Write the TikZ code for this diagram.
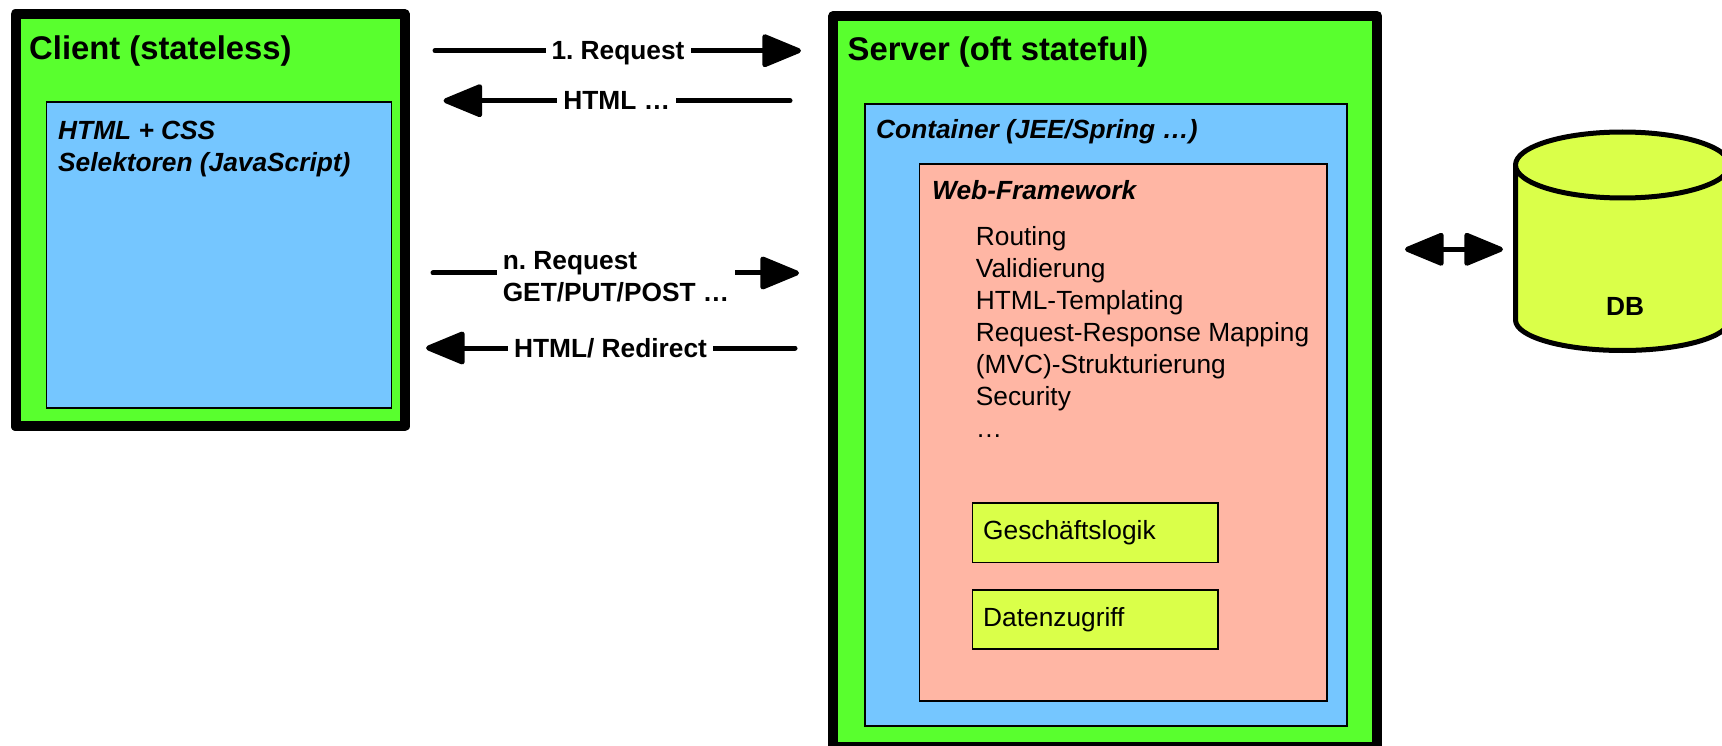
\documentclass[tikz,border=0pt]{standalone}
\usepackage{fontspec}
\setmainfont{Liberation Sans}
\frenchspacing
\usetikzlibrary{arrows.meta}
\definecolor{boxgreen}{RGB}{89,255,46}
\definecolor{boxblue}{RGB}{117,198,255}
\definecolor{boxpink}{RGB}{255,182,164}
\definecolor{boxlime}{RGB}{218,255,73}
\tikzset{
  TierStyle/.style = { rectangle, draw, line width = 10pt, line join = round,
                       fill = boxgreen, inner sep = 0pt },
  InnerStyle/.style = { rectangle, draw, line width = 1.6pt, inner sep = 0pt },
  TitleStyle/.style = { anchor = base west, inner sep = 0pt,
                       font = \fontsize{32.8}{36}\selectfont\bfseries },
  SubStyle/.style = { anchor = base west, inner sep = 0pt,
                       font = \fontsize{26.3}{32}\selectfont\bfseries\itshape },
  PlainStyle/.style = { anchor = base west, inner sep = 0pt,
                       font = \fontsize{26.3}{32}\selectfont },
  MsgStyle/.style = { line width = 5pt, line cap = round,
                       -{Triangle[length = 43pt, width = 34pt, round]} },
  MsgLabelStyle/.style = { fill = white, inner xsep = 6pt, inner ysep = 2pt,
                       font = \fontsize{26.3}{32}\selectfont\bfseries },
  OneLine/.style = { text height = 18pt, text depth = 0pt },
  DbStyle/.style = { draw, line width = 5pt, line join = round, fill = boxlime }
}

\begin{document}
\begin{tikzpicture}[x=1pt,y=-1pt]
  \useasboundingbox (0,0) rectangle (1722,746);
  \clip (0,0) rectangle (1722,746);

  \node[TierStyle, minimum width = 389pt, minimum height = 412.5pt] (client) at (210,220.2) {};
  \node[InnerStyle, fill = boxblue, minimum width = 345pt, minimum height = 306pt] (clientpage) at (219,255) {};
  \node[TitleStyle] (clienttitle) at (29,60) {Client (stateless)};
  \node[SubStyle, anchor = north west, align = left] (clienttext) at (58,121) {HTML + CSS\\Selektoren (JavaScript)};

  \node[TierStyle, minimum width = 544pt, minimum height = 731pt] (server) at (1105.3,381.5) {};
  \node[InnerStyle, fill = boxblue, minimum width = 482pt, minimum height = 622pt] (container) at (1105.8,415) {};
  \node[InnerStyle, fill = boxpink, minimum width = 407.5pt, minimum height = 537pt] (webfw) at (1123.3,432.5) {};
  \node[InnerStyle, fill = boxlime, minimum width = 245.5pt, minimum height = 59.5pt] (logic) at (1095.3,532.8) {};
  \node[InnerStyle, fill = boxlime, minimum width = 245.5pt, minimum height = 59pt] (access) at (1095.3,619.2) {};

  \node[TitleStyle] (servertitle) at (847.5,61) {Server (oft stateful)};
  \node[SubStyle] (containertitle) at (876,139) {Container (JEE/Spring …)};
  \node[SubStyle] (webfwtitle) at (932,200) {Web-Framework};
  \node[PlainStyle, anchor = north west, align = left] (webfwlist) at (975.7,226.5) {Routing\\Validierung\\HTML-Templating\\Request-Response Mapping\\(MVC)-Strukturierung\\Security\\…};
  \node[PlainStyle] (logictext) at (983,539) {Geschäftslogik};
  \node[PlainStyle] (accesstext) at (983,626.2) {Datenzugriff};

  \draw[DbStyle] (1515.5,165) -- (1515.5,320) arc[start angle = 180, end angle = 360, x radius = 107pt, y radius = 30.5pt]
    -- (1729.5,165) -- cycle;
  \draw[DbStyle] (1622.5,165) ellipse[x radius = 107pt, y radius = 33pt];
  \node[anchor = base, inner sep = 0pt, font = \fontsize{26.3}{30}\selectfont\bfseries] (dbtext) at (1625,315) {DB};

  \coordinate (req1a) at (435,50.7);
  \coordinate (req1b) at (801,50.7);
  \coordinate (res1a) at (790,100.7);
  \coordinate (res1b) at (443.5,100.7);
  \coordinate (reqna) at (433,273);
  \coordinate (reqnb) at (799,273);
  \coordinate (resna) at (795,348);
  \coordinate (resnb) at (426,348);
  \coordinate (dbl) at (1405,249.3);
  \coordinate (dbr) at (1503,249.3);

  \draw[MsgStyle] (req1a) -- node[MsgLabelStyle, OneLine] (req1) {1. Request} (req1b);
  \draw[MsgStyle] (res1a) -- node[MsgLabelStyle, OneLine] (res1) {HTML …} (res1b);
  \draw[MsgStyle] (reqna) -- node[MsgLabelStyle, align = left, yshift = -3.5pt] (reqn) {n. Request\\GET/PUT/POST …} (reqnb);
  \draw[MsgStyle] (resna) -- node[MsgLabelStyle, OneLine] (resn) {HTML/ Redirect} (resnb);
  \draw[MsgStyle, {Triangle[length = 43pt, width = 34pt, round]}-{Triangle[length = 43pt, width = 34pt, round]}] (dbl) -- (dbr);
\end{tikzpicture}
\end{document}
